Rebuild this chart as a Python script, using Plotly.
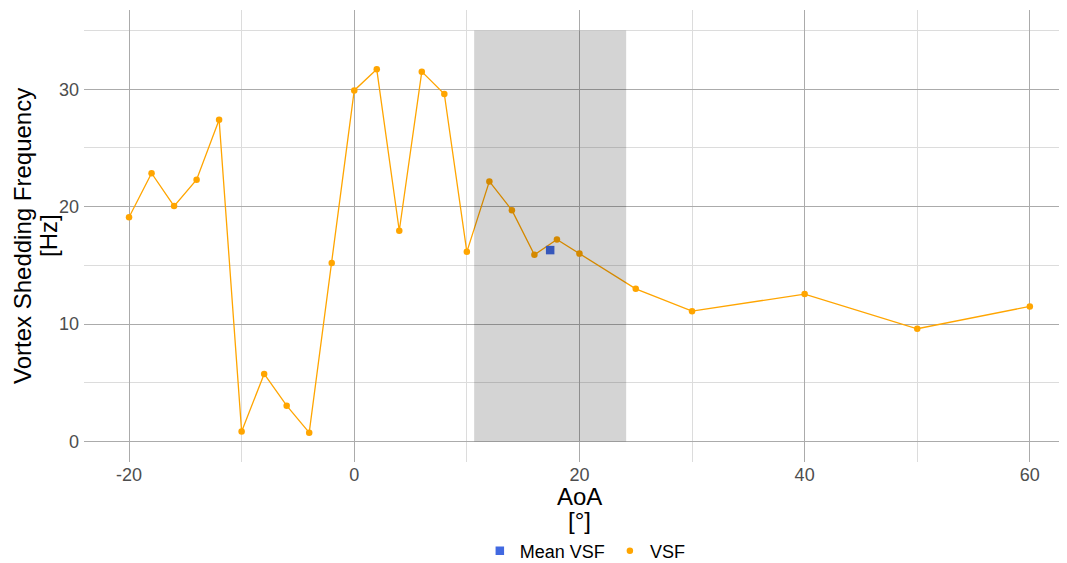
import plotly.graph_objects as go

aoa = [-20, -18, -16, -14, -12, -10, -8, -6, -4, -2, 0, 2, 4, 6, 8, 10, 12, 14, 16, 18, 20, 25, 30, 40, 50, 60]
vsf = [19.1, 22.85, 20.05, 22.3, 27.4, 0.85, 5.75, 3.05, 0.75, 15.2, 29.9, 31.7, 17.95, 31.5, 29.6, 16.15, 22.15, 19.7, 15.9, 17.2, 16.0, 13.0, 11.1, 12.55, 9.6, 11.5]
mean_aoa = [17.4]
mean_vsf = [16.3]
band_x = [10.65, 24.15]
band_y = [0, 35]
x_ticks = [-20, 0, 20, 40, 60]
x_labels = ["-20", "0", "20", "40", "60"]
y_ticks = [0, 10, 20, 30]
y_labels = ["0", "10", "20", "30"]

FONT = "Liberation Sans, Arial, sans-serif"

fig = go.Figure()
fig.add_trace(go.Scatter(
    x=aoa, y=vsf, mode="lines", showlegend=False, hoverinfo="skip",
    line=dict(color="#FFA500", width=1.3),
))
fig.add_trace(go.Scatter(
    x=mean_aoa, y=mean_vsf, mode="markers", name="Mean VSF",
    marker=dict(symbol="square", size=8.5, color="#4169E1"),
))
fig.add_trace(go.Scatter(
    x=aoa, y=vsf, mode="markers", name="VSF",
    marker=dict(symbol="circle", size=6.5, color="#FFA500"),
))

fig.add_shape(type="rect", xref="x", yref="y",
              x0=band_x[0], x1=band_x[1], y0=band_y[0], y1=band_y[1],
              fillcolor="rgba(0,0,0,0.17)", line=dict(width=0), layer="above")

tickfont = dict(family=FONT, size=18, color="#4d4d4d")
fig.update_xaxes(
    range=[-24, 63.3], tickmode="array", tickvals=x_ticks, ticktext=x_labels,
    showgrid=True, gridcolor="#ababab", gridwidth=1.1,
    zeroline=False, showline=False, ticks="", tickfont=tickfont, ticklabelstandoff=0,
    automargin=False,
    minor=dict(dtick=10, tick0=0, showgrid=True, gridcolor="#dcdcdc", gridwidth=0.8),
)
fig.update_yaxes(
    range=[-1.75, 36.75], tickmode="array", tickvals=y_ticks, ticktext=y_labels,
    showgrid=True, gridcolor="#ababab", gridwidth=1.1,
    zeroline=False, showline=False, ticks="", tickfont=tickfont, ticklabelstandoff=4,
    automargin=False,
    minor=dict(dtick=5, tick0=0, showgrid=True, gridcolor="#dcdcdc", gridwidth=0.8),
)

titlefont = dict(family=FONT, size=24, color="black")
fig.add_annotation(text="Vortex Shedding Frequency", xref="paper", yref="paper",
                   x=0, y=0.5, xanchor="center", yanchor="middle", xshift=-62,
                   textangle=-90, showarrow=False, font=titlefont)
fig.add_annotation(text="[Hz]", xref="paper", yref="paper",
                   x=0, y=0.5, xanchor="center", yanchor="middle", xshift=-36,
                   textangle=-90, showarrow=False, font=titlefont)
fig.add_annotation(text="AoA", xref="x", yref="paper",
                   x=20, y=0, xanchor="center", yanchor="middle", yshift=-34,
                   showarrow=False, font=titlefont)
fig.add_annotation(text="[°]", xref="x", yref="paper",
                   x=20, y=0, xanchor="center", yanchor="middle", yshift=-58,
                   showarrow=False, font=titlefont)

fig.update_layout(
    width=1059, height=555,
    margin=dict(l=76, r=0, t=2, b=101, autoexpand=False),
    plot_bgcolor="white", paper_bgcolor="white",
    font=dict(family=FONT),
    showlegend=True,
    legend=dict(orientation="h", x=0.51, xanchor="center", y=-0.197, yanchor="middle",
                font=dict(family=FONT, size=18, color="black"),
                itemwidth=30, tracegroupgap=0, bgcolor="rgba(0,0,0,0)"),
)

fig.write_html("out.html")
